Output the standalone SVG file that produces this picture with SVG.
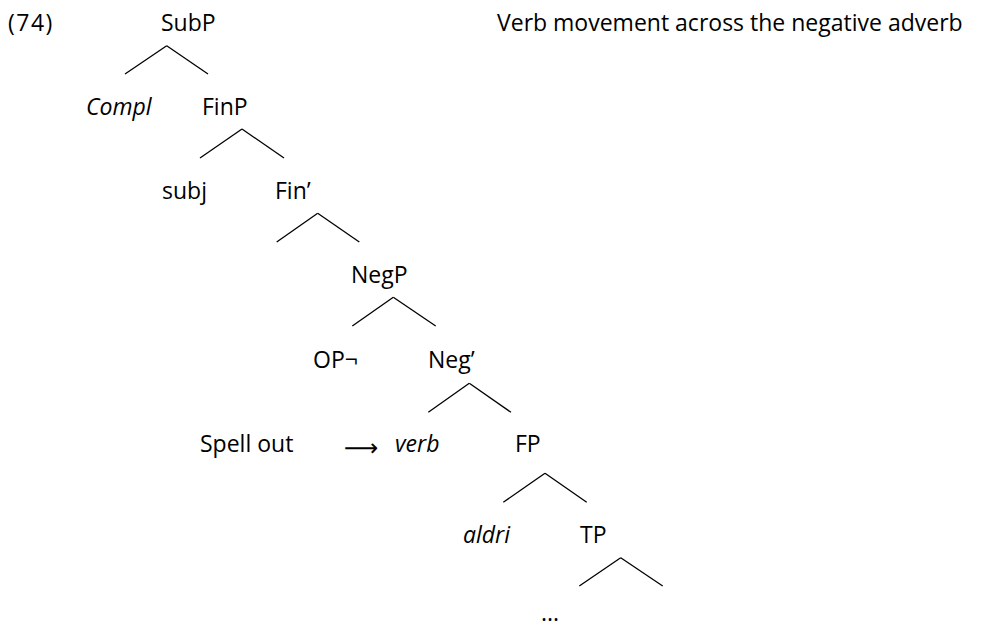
<svg xmlns="http://www.w3.org/2000/svg" width="986" height="628" viewBox="0 0 986 628">
<style>
text{font-family:"Open Sans","Liberation Sans",sans-serif;font-size:23px;fill:#000}
.i{font-style:italic}
.e line{stroke:#000;stroke-width:1.3;fill:none}
</style>
<rect width="986" height="628" fill="#fff"/>
<g id="label-74"><text x="8" y="31" letter-spacing="1.5">(74)</text></g>
<g id="title"><text x="497" y="31">Verb movement across the negative adverb</text></g>
<g id="n-SubP"><text x="161" y="31">SubP</text></g>
<g id="n-Compl"><text class="i" x="86" y="115">Compl</text></g>
<g id="n-FinP"><text x="202" y="115">FinP</text></g>
<g id="n-subj"><text x="162" y="199">subj</text></g>
<g id="n-Fin1"><text x="275" y="199">Fin’</text></g>
<g id="n-NegP"><text x="351" y="283">NegP</text></g>
<g id="n-OP"><text x="313" y="368">OP¬</text></g>
<g id="n-Neg1"><text x="428" y="368">Neg’</text></g>
<g id="n-spell"><text x="200" y="452">Spell out</text></g>
<g id="n-arrow"><text x="344" y="456" style="font-family:'DejaVu Sans',sans-serif;font-size:24px">⟶</text></g>
<g id="n-verb"><text class="i" x="395" y="452">verb</text></g>
<g id="n-FP"><text x="515" y="452">FP</text></g>
<g id="n-aldri"><text class="i" x="463" y="543">aldri</text></g>
<g id="n-TP"><text x="580" y="543">TP</text></g>
<g id="n-dots"><text x="541" y="621">...</text></g>
<g id="edges" class="e">
<line x1="166.7" y1="45.7" x2="125" y2="74"/><line x1="166.7" y1="45.7" x2="208" y2="74"/>
<line x1="242" y1="129" x2="200" y2="158"/><line x1="242" y1="129" x2="284" y2="158"/>
<line x1="317.7" y1="213.3" x2="276.7" y2="242"/><line x1="317.7" y1="213.3" x2="359.3" y2="242"/>
<line x1="393.3" y1="297.3" x2="352.3" y2="326"/><line x1="393.3" y1="297.3" x2="435.7" y2="326"/>
<line x1="469.3" y1="383.3" x2="428.3" y2="412.3"/><line x1="469.3" y1="383.3" x2="511" y2="412.3"/>
<line x1="545" y1="473.3" x2="503.3" y2="502.3"/><line x1="545" y1="473.3" x2="586.7" y2="502.3"/>
<line x1="620.7" y1="557.7" x2="579.3" y2="586"/><line x1="620.7" y1="557.7" x2="662.7" y2="586"/>
</g>
</svg>
